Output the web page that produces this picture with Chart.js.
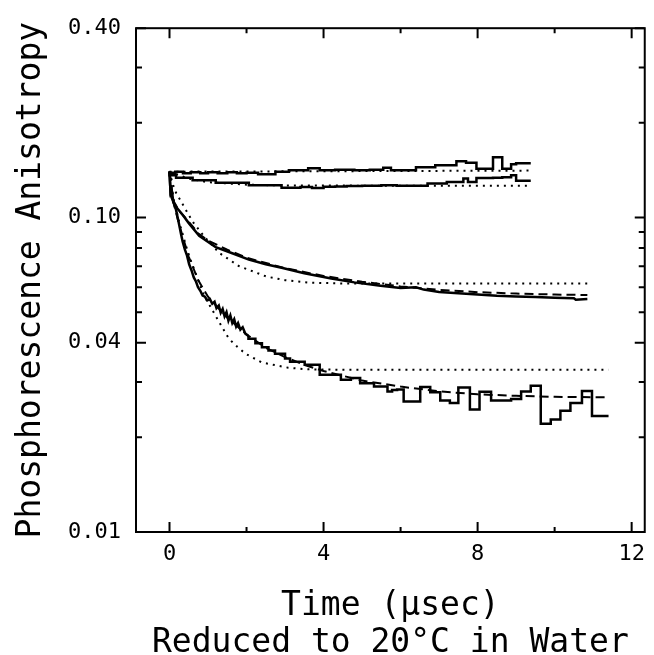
<!DOCTYPE html>
<html>
<head>
<meta charset="utf-8">
<script src="https://cdn.jsdelivr.net/npm/chart.js@4.4.1/dist/chart.umd.min.js"></script>
<style>
  html, body { margin: 0; padding: 0; background: #fff; }
</style>
</head>
<body>
<canvas id="myChart" width="654" height="655"></canvas>
<script>
// axis text
const yTitle = 'Phosphorescence Anisotropy';
const xTitle = 'Time (\u00b5sec)';
const xSubTitle = 'Reduced to 20\u00b0C in Water';

// tick values
const xTickValues = [0, 4, 8, 12];
const xMinorTicks = [2, 6, 10];
const yTickValues = [0.01, 0.04, 0.1, 0.4];
const yMinorTicks = [0.02, 0.03, 0.05, 0.06, 0.07, 0.08, 0.09, 0.2, 0.3];

// top trace (rising slightly) + its dotted fit
const topTime  = [0, 0.15, 0.35, 0.55, 0.8, 1.0, 1.25, 1.5, 1.75, 2.0, 2.3, 2.75, 3.1, 3.6, 3.9, 4.3, 4.8, 5.2, 5.55, 5.75, 6.4, 6.9, 7.45, 7.7, 7.97, 8.4, 8.64, 8.87, 9.0, 9.2, 9.38];
const topSolid = [0.1399, 0.1389, 0.1399, 0.1384, 0.1394, 0.1384, 0.1394, 0.1384, 0.1394, 0.1384, 0.1389, 0.1374, 0.1399, 0.1414, 0.1435, 0.1414, 0.1419, 0.1414, 0.1419, 0.1440, 0.1414, 0.1445, 0.1466, 0.1510, 0.1494, 0.1430, 0.1554, 0.1430, 0.1477, 0.1488, 0.1488];
const topFitTime = [0, 9.38];
const topFit     = [0.1399, 0.1410];

// second trace (dips then recovers) + dotted fit
const secTime  = [0, 0.17, 0.6, 1.2, 2.06, 2.91, 3.4, 3.7, 4.0, 4.3, 4.6, 5.0, 5.5, 5.9, 6.7, 7.2, 7.63, 7.75, 7.97, 8.4, 8.64, 8.87, 9.0, 9.1, 9.38];
const secSolid = [0.1399, 0.1364, 0.1339, 0.1315, 0.1289, 0.1266, 0.1243, 0.1250, 0.1241, 0.1252, 0.1255, 0.1259, 0.1261, 0.1266, 0.1261, 0.1282, 0.1298, 0.1330, 0.1296, 0.1335, 0.1339, 0.1344, 0.1362, 0.1308, 0.1308];
const secFitTime = [0, 0.5, 1, 2, 3, 9.38];
const secFit     = [0.1399, 0.1330, 0.1295, 0.1272, 0.1264, 0.1261];

// middle trace + dashed and dotted fits
const midTime  = [0, 0.03, 0.1, 0.2, 0.34, 0.5, 0.77, 1.2, 1.63, 2.06, 2.5, 2.91, 3.5, 4.2, 4.8, 5.48, 6.0, 6.4, 6.6, 7.0, 7.5, 8.0, 8.5, 9.0, 9.5, 10.0, 10.5, 10.55, 10.85];
const midSolid = [0.140, 0.118, 0.112, 0.107, 0.102, 0.096, 0.0875, 0.0805, 0.0770, 0.0735, 0.0710, 0.0692, 0.0665, 0.0640, 0.0622, 0.0607, 0.0597, 0.0600, 0.0590, 0.0580, 0.0574, 0.0569, 0.0564, 0.0561, 0.0559, 0.0556, 0.0554, 0.0548, 0.0551];
const midDashTime = [0, 0.1, 0.25, 0.5, 0.75, 1, 1.5, 2, 3, 4, 5, 6, 7, 8, 9, 10, 10.85];
const midDash     = [0.140, 0.113, 0.105, 0.097, 0.089, 0.0845, 0.0790, 0.0745, 0.0690, 0.0652, 0.0625, 0.0604, 0.0589, 0.0579, 0.0573, 0.0569, 0.0567];
const midDotTime = [0, 0.08, 0.17, 0.28, 0.5, 0.63, 0.9, 1.29, 1.8, 2.52, 3.0, 3.6, 4.5, 6, 8, 10.85];
const midDot     = [0.140, 0.128, 0.1199, 0.1136, 0.1019, 0.0960, 0.0870, 0.0772, 0.0701, 0.0649, 0.0632, 0.0621, 0.0617, 0.0617, 0.0617, 0.0617];

// bottom trace: noisy early part, then binned (stepped) part
const lowEarlyTime = [0, 0.03, 0.07, 0.1, 0.17, 0.22, 0.26, 0.30, 0.34, 0.4, 0.45, 0.51, 0.57, 0.63, 0.69, 0.74, 0.8, 0.86, 0.92, 0.98, 1.05, 1.11, 1.17, 1.22, 1.28, 1.33, 1.38, 1.43, 1.48, 1.53, 1.58, 1.63, 1.68, 1.73, 1.78, 1.84, 1.9, 1.97, 2.05];
const lowEarly     = [0.140, 0.118, 0.1193, 0.112, 0.1057, 0.099, 0.0937, 0.0885, 0.0840, 0.0790, 0.0760, 0.0710, 0.0680, 0.0645, 0.0625, 0.0600, 0.0585, 0.0565, 0.0560, 0.0545, 0.0550, 0.0532, 0.0540, 0.0515, 0.0525, 0.0498, 0.0512, 0.0485, 0.0500, 0.0470, 0.0488, 0.0462, 0.0475, 0.0450, 0.0462, 0.0440, 0.0448, 0.0427, 0.0420];
const lowLateTime  = [2.05, 2.23, 2.4, 2.57, 2.74, 3.0, 3.13, 3.51, 3.9, 4.16, 4.45, 4.71, 4.95, 5.31, 5.66, 5.78, 5.91, 6.08, 6.51, 6.77, 7.03, 7.28, 7.5, 7.8, 8.05, 8.35, 8.87, 9.13, 9.38, 9.64, 9.9, 10.15, 10.41, 10.71, 10.97, 11.22, 11.4];
const lowLate      = [0.0420, 0.0412, 0.0398, 0.0387, 0.0378, 0.0369, 0.0356, 0.0348, 0.0340, 0.0316, 0.0316, 0.0305, 0.0309, 0.0297, 0.0290, 0.0280, 0.0283, 0.0284, 0.0260, 0.0289, 0.0278, 0.0262, 0.0257, 0.0288, 0.0245, 0.0279, 0.0262, 0.0265, 0.0280, 0.0292, 0.0221, 0.0228, 0.0243, 0.0257, 0.0281, 0.0234, 0.0234];
const lowDashTime = [0, 0.1, 0.25, 0.5, 0.75, 1.0, 1.5, 2.0, 2.5, 3.0, 3.5, 4.0, 5.0, 6.0, 7.0, 8.0, 9.0, 10.0, 11.4];
const lowDash     = [0.140, 0.112, 0.095, 0.075, 0.063, 0.056, 0.048, 0.0425, 0.0385, 0.0360, 0.0340, 0.0325, 0.0303, 0.0290, 0.0280, 0.0274, 0.0271, 0.0269, 0.0268];
const lowDotTime = [0, 0.1, 0.26, 0.43, 0.54, 0.9, 1.29, 1.54, 1.76, 1.97, 2.4, 3.08, 3.6, 4.5, 11.4];
const lowDot     = [0.140, 0.115, 0.096, 0.0811, 0.0737, 0.0564, 0.0465, 0.0412, 0.0388, 0.0369, 0.0346, 0.0333, 0.0329, 0.0328, 0.0328];

const pts = (t, v) => t.map((x, i) => ({x: x, y: v[i]}));

const solid = (t, v, step) => ({data: pts(t, v), borderColor: '#000', borderWidth: 2.5, pointRadius: 0, stepped: step ? 'after' : false, fill: false});
const dotted = (t, v) => ({data: pts(t, v), borderColor: '#000', borderWidth: 2, borderDash: [2, 5], pointRadius: 0, fill: false});
const dashed = (t, v) => ({data: pts(t, v), borderColor: '#000', borderWidth: 2, borderDash: [9, 5], pointRadius: 0, fill: false});

// frame with inward tick marks, placed through the chart scales
const frameTicks = {
  id: 'frameTicks',
  afterDatasetsDraw(chart) {
    const {ctx, chartArea: a, scales: {x, y}} = chart;
    ctx.save();
    ctx.strokeStyle = '#000';
    ctx.lineWidth = 2;
    ctx.strokeRect(a.left, a.top, a.right - a.left, a.bottom - a.top);
    ctx.beginPath();
    xTickValues.map(v => [v, 10]).concat(xMinorTicks.map(v => [v, 5])).forEach(([v, len]) => {
      const px = x.getPixelForValue(v);
      ctx.moveTo(px, a.bottom); ctx.lineTo(px, a.bottom - len);
      ctx.moveTo(px, a.top); ctx.lineTo(px, a.top + len);
    });
    yTickValues.map(v => [v, 10]).concat(yMinorTicks.map(v => [v, 6])).forEach(([v, len]) => {
      const py = y.getPixelForValue(v);
      ctx.moveTo(a.left, py); ctx.lineTo(a.left + len, py);
      ctx.moveTo(a.right, py); ctx.lineTo(a.right - len, py);
    });
    ctx.stroke();
    ctx.restore();
  }
};

Chart.defaults.font.family = "'DejaVu Sans Mono', monospace";
Chart.defaults.color = '#000';

const ctx = document.getElementById('myChart').getContext('2d');
const myChart = new Chart(ctx, {
  type: 'line',
  data: {
    datasets: [
      solid(topTime, topSolid, true),
      dotted(topFitTime, topFit),
      solid(secTime, secSolid, true),
      dotted(secFitTime, secFit),
      solid(midTime, midSolid, false),
      dashed(midDashTime, midDash),
      dotted(midDotTime, midDot),
      solid(lowEarlyTime, lowEarly, false),
      solid(lowLateTime, lowLate, true),
      dashed(lowDashTime, lowDash),
      dotted(lowDotTime, lowDot)
    ]
  },
  options: {
    responsive: false,
    animation: false,
    devicePixelRatio: 1,
    layout: { padding: { top: 23, right: 4, left: 0, bottom: 0 } },
    plugins: { legend: { display: false }, tooltip: { enabled: false } },
    scales: {
      x: {
        type: 'linear',
        min: -0.87,
        max: 12.34,
        afterBuildTicks: s => { s.ticks = xTickValues.map(v => ({value: v})); },
        afterFit: s => { s.height = 123; },
        ticks: { callback: v => String(v), padding: 9, font: { size: 22 }, color: '#000', autoSkip: false, maxRotation: 0 },
        grid: { display: false, drawTicks: false },
        border: { display: false },
        title: {
          display: true,
          text: [xTitle, xSubTitle],
          color: '#000',
          font: { size: 33, lineHeight: 1.12 },
          padding: { top: 0, bottom: -7 }
        }
      },
      y: {
        type: 'logarithmic',
        min: 0.01,
        max: 0.4,
        afterBuildTicks: s => { s.ticks = yTickValues.map(v => ({value: v})); },
        afterFit: s => { s.width = 136; },
        ticks: { callback: v => Number(v).toFixed(2), padding: 15, font: { size: 22 }, color: '#000', autoSkip: false },
        grid: { display: false, drawTicks: false },
        border: { display: false },
        title: {
          display: true,
          text: yTitle,
          color: '#000',
          font: { size: 33, lineHeight: 1.1 },
          padding: { top: 13, bottom: 0 }
        }
      }
    }
  },
  plugins: [frameTicks]
});
</script>
</body>
</html>
